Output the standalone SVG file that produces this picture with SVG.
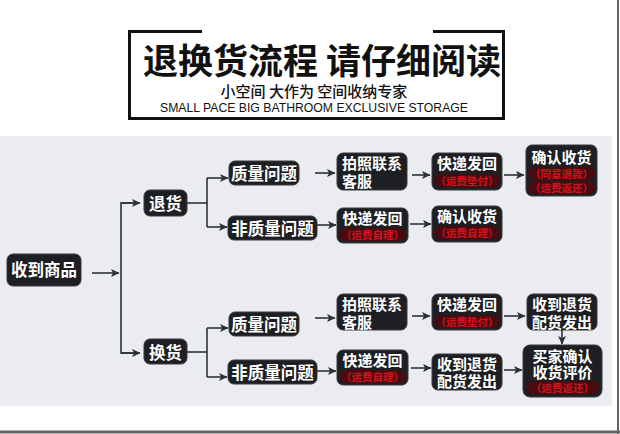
<svg xmlns="http://www.w3.org/2000/svg" width="620" height="434" viewBox="0 0 620 434">
<defs>
<marker id="ah" markerUnits="userSpaceOnUse" markerWidth="9" markerHeight="9" refX="8" refY="4.5" orient="auto">
<path d="M0,0.5 L8.5,4.5 L0,8.5 L2,4.5 z" fill="#2b313b"/>
</marker>
<style>
.bx{fill:#1e1f22;stroke:#3a3b3f;stroke-width:1}
.t{font-family:"Noto Sans CJK SC","Noto Sans",sans-serif;font-weight:700;fill:#ffffff;font-size:16.5px;dominant-baseline:central}
.t2{font-family:"Noto Sans CJK SC","Noto Sans",sans-serif;font-weight:700;fill:#ffffff;font-size:15px;dominant-baseline:central;text-anchor:middle}
.r{font-family:"Noto Sans CJK SC","Noto Sans",sans-serif;font-weight:700;fill:#d3141e;font-size:10.5px;dominant-baseline:central;text-anchor:middle}
.pill{fill:#4a0b10}
.c{fill:none;stroke:#2b313b;stroke-width:1.6}
.ar{marker-end:url(#ah)}
</style>
</defs>
<rect x="0" y="0" width="620" height="434" fill="#ffffff"/>
<rect x="0" y="136" width="612" height="270" fill="#ebecef"/>
<line x1="618" y1="0" x2="618" y2="434" stroke="#666" stroke-width="2"/>
<line x1="0" y1="432" x2="620" y2="432" stroke="#666" stroke-width="3"/>

<g id="title">
<path d="M202,31.5 H129.5 V118.5 H503.5 V31.5 H433" fill="none" stroke="#111" stroke-width="3"/>
<text x="322" y="58" text-anchor="middle" font-family="'Noto Sans CJK SC',sans-serif" font-weight="700" font-size="35" fill="#111" dominant-baseline="central">退换货流程 请仔细阅读</text>
<text x="314" y="90" text-anchor="middle" font-family="'Noto Sans CJK SC',sans-serif" font-weight="500" font-size="15" fill="#111" dominant-baseline="central">小空间 大作为 空间收纳专家</text>
<text x="314" y="107.5" text-anchor="middle" font-family="'Liberation Sans',Arial,sans-serif" font-size="12.5" fill="#111" dominant-baseline="central" textLength="308" lengthAdjust="spacingAndGlyphs">SMALL PACE BIG BATHROOM EXCLUSIVE STORAGE</text>
</g>

<g id="connectors">
<line class="c ar" x1="92" y1="273" x2="119" y2="273"/>
<polyline class="c" points="138,203 121,203 121,353 138,353"/>
<line class="c ar" x1="121" y1="203" x2="140" y2="203"/>
<line class="c ar" x1="121" y1="353" x2="140" y2="353"/>
<line class="c" x1="187" y1="203" x2="207" y2="203"/>
<line class="c" x1="207" y1="178" x2="207" y2="227"/>
<line class="c ar" x1="207" y1="178" x2="228" y2="178"/>
<line class="c ar" x1="207" y1="227" x2="227" y2="227"/>
<line class="c ar" x1="315" y1="173" x2="335" y2="173"/>
<line class="c ar" x1="412" y1="175" x2="430" y2="175"/>
<line class="c ar" x1="504" y1="175" x2="524" y2="175"/>
<line class="c ar" x1="317" y1="225" x2="336" y2="225"/>
<line class="c ar" x1="410" y1="224" x2="431" y2="224"/>
<line class="c" x1="187" y1="352" x2="207" y2="352"/>
<line class="c" x1="207" y1="328" x2="207" y2="377"/>
<line class="c ar" x1="207" y1="328" x2="228" y2="328"/>
<line class="c ar" x1="207" y1="377" x2="227" y2="377"/>
<line class="c ar" x1="315" y1="318" x2="335" y2="318"/>
<line class="c ar" x1="412" y1="316" x2="430" y2="316"/>
<line class="c ar" x1="504" y1="316" x2="525" y2="316"/>
<line class="c ar" x1="562" y1="330" x2="562" y2="344"/>
<line class="c ar" x1="317" y1="371" x2="336" y2="371"/>
<line class="c ar" x1="411" y1="368" x2="431" y2="368"/>
<line class="c ar" x1="504" y1="370" x2="522" y2="370"/>
</g>

<g id="n-receive">
<rect class="bx" x="7" y="254" width="74" height="32" rx="6"/>
<text class="t" x="44" y="269" text-anchor="middle">收到商品</text>
</g>
<g id="n-return">
<rect class="bx" x="144" y="190" width="43" height="26" rx="6"/>
<text class="t" x="165.5" y="203" text-anchor="middle">退货</text>
</g>
<g id="n-exchange">
<rect class="bx" x="144" y="339" width="43" height="25" rx="6"/>
<text class="t" x="165.5" y="351.5" text-anchor="middle">换货</text>
</g>
<g id="n-r-quality">
<rect class="bx" x="229" y="161" width="70" height="24" rx="6"/>
<text class="t" x="264" y="172.5" text-anchor="middle">质量问题</text>
</g>
<g id="n-r-nonquality">
<rect class="bx" x="228" y="216" width="89" height="24" rx="6"/>
<text class="t" x="272.5" y="228" text-anchor="middle">非质量问题</text>
</g>
<g id="n-r-photo">
<rect class="bx" x="337" y="153" width="70" height="37" rx="6"/>
<text class="t2" x="372" y="162.5">拍照联系</text>
<text class="t2" x="357" y="180.5">客服</text>
</g>
<g id="n-r-ship1">
<rect class="bx" x="432" y="153" width="70" height="37" rx="6"/>
<text class="t2" x="467" y="162.5">快递发回</text>
<rect class="pill" x="434" y="174" width="66" height="13" rx="6.5"/>
<text class="r" x="467" y="180.5">（运费垫付）</text>
</g>
<g id="n-r-confirm1">
<rect class="bx" x="526" y="145" width="71" height="51" rx="6"/>
<text class="t2" x="561.5" y="156">确认收货</text>
<rect class="pill" x="528" y="167" width="67" height="13" rx="6.5"/>
<text class="r" x="561.5" y="173.5">（同意退款）</text>
<rect class="pill" x="528" y="181" width="67" height="13" rx="6.5"/>
<text class="r" x="561.5" y="187.5">（运费返还）</text>
</g>
<g id="n-r-ship2">
<rect class="bx" x="337" y="208" width="71" height="35" rx="6"/>
<text class="t2" x="372.5" y="217">快递发回</text>
<rect class="pill" x="339" y="228" width="67" height="13" rx="6.5"/>
<text class="r" x="372.5" y="234.5">（运费自理）</text>
</g>
<g id="n-r-confirm2">
<rect class="bx" x="432" y="206" width="70" height="36" rx="6"/>
<text class="t2" x="467" y="215">确认收货</text>
<rect class="pill" x="434" y="226" width="66" height="13" rx="6.5"/>
<text class="r" x="467" y="232.5">（运费自理）</text>
</g>
<g id="n-e-quality">
<rect class="bx" x="229" y="312" width="70" height="24" rx="6"/>
<text class="t" x="264" y="323.5" text-anchor="middle">质量问题</text>
</g>
<g id="n-e-nonquality">
<rect class="bx" x="228" y="360" width="89" height="24" rx="6"/>
<text class="t" x="272.5" y="371.5" text-anchor="middle">非质量问题</text>
</g>
<g id="n-e-photo">
<rect class="bx" x="337" y="294" width="70" height="36" rx="6"/>
<text class="t2" x="372" y="303.5">拍照联系</text>
<text class="t2" x="357" y="321">客服</text>
</g>
<g id="n-e-ship1">
<rect class="bx" x="432" y="294" width="70" height="36" rx="6"/>
<text class="t2" x="467" y="303.5">快递发回</text>
<rect class="pill" x="434" y="315" width="66" height="13" rx="6.5"/>
<text class="r" x="467" y="321.5">（运费垫付）</text>
</g>
<g id="n-e-resend1">
<rect class="bx" x="527" y="294" width="70" height="36" rx="6"/>
<text class="t2" x="562" y="303.5">收到退货</text>
<text class="t2" x="562" y="321">配货发出</text>
</g>
<g id="n-e-buyer">
<rect class="bx" x="523" y="345" width="79" height="52" rx="7"/>
<text class="t2" x="562.5" y="355">买家确认</text>
<text class="t2" x="562.5" y="371">收货评价</text>
<rect class="pill" x="526" y="381" width="73" height="13" rx="6.5"/>
<text class="r" x="562.5" y="387.5">（运费返还）</text>
</g>
<g id="n-e-ship2">
<rect class="bx" x="337" y="350" width="71" height="35" rx="6"/>
<text class="t2" x="372.5" y="359">快递发回</text>
<rect class="pill" x="339" y="370" width="67" height="13" rx="6.5"/>
<text class="r" x="372.5" y="376.5">（运费自理）</text>
</g>
<g id="n-e-resend2">
<rect class="bx" x="432" y="354" width="70" height="36" rx="6"/>
<text class="t2" x="467" y="363">收到退货</text>
<text class="t2" x="467" y="380.5">配货发出</text>
</g>
</svg>
